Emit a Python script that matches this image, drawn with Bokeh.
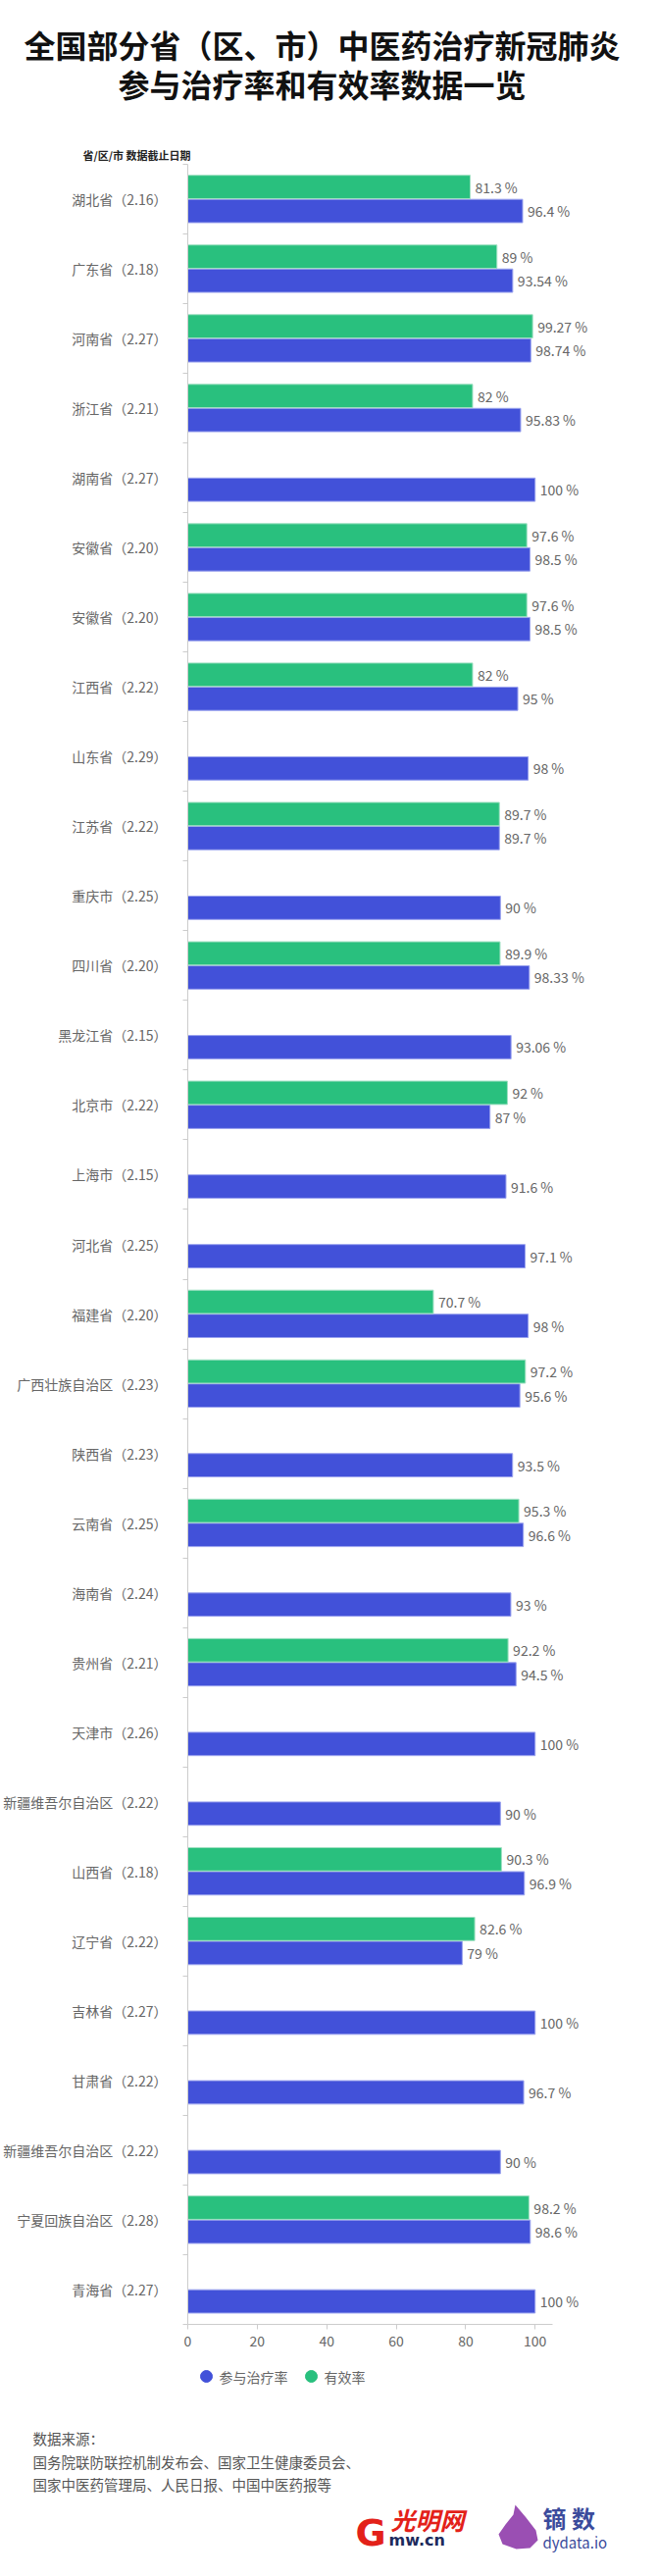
from bokeh.plotting import figure
from bokeh.layouts import column
from bokeh.models import Range1d, FixedTicker, ColumnDataSource
from bokeh.core.properties import value
from bokeh.embed import file_html
from bokeh.resources import INLINE

# ---------------- data ----------------
regions = ["湖北省", "广东省", "河南省", "浙江省", "湖南省", "安徽省", "安徽省", "江西省",
           "山东省", "江苏省", "重庆市", "四川省", "黑龙江省", "北京市", "上海市", "河北省",
           "福建省", "广西壮族自治区", "陕西省", "云南省", "海南省", "贵州省", "天津市",
           "新疆维吾尔自治区", "山西省", "辽宁省", "吉林省", "甘肃省", "新疆维吾尔自治区",
           "宁夏回族自治区", "青海省"]
dates = ["2.16", "2.18", "2.27", "2.21", "2.27", "2.20", "2.20", "2.22", "2.29", "2.22",
         "2.25", "2.20", "2.15", "2.22", "2.15", "2.25", "2.20", "2.23", "2.23", "2.25",
         "2.24", "2.21", "2.26", "2.22", "2.18", "2.22", "2.27", "2.22", "2.22", "2.28", "2.27"]
participation = [96.4, 93.54, 98.74, 95.83, 100, 98.5, 98.5, 95, 98, 89.7, 90, 98.33, 93.06,
                 87, 91.6, 97.1, 98, 95.6, 93.5, 96.6, 93, 94.5, 100, 90, 96.9, 79, 100,
                 96.7, 90, 98.6, 100]
effective = [81.3, 89, 99.27, 82, None, 97.6, 97.6, 82, None, 89.7, None, 89.9, None, 92,
             None, None, 70.7, 97.2, None, 95.3, None, 92.2, None, None, 90.3, 82.6, None,
             None, None, 98.2, None]
x_ticks = [0, 20, 40, 60, 80, 100]
series_names = ["参与治疗率", "有效率"]
title_lines = ["全国部分省（区、市）中医药治疗新冠肺炎", "参与治疗率和有效率数据一览"]
subheader = "省/区/市 数据截止日期"
source_lines = ["数据来源：", "国务院联防联控机制发布会、国家卫生健康委员会、",
                "国家中医药管理局、人民日报、中国中医药报等"]

# ---------------- style ----------------
W = 654
FONT = "Noto Sans CJK SC"
BLUE = "#4251d9"
GREEN = "#29c07e"
GRAY_TXT = "#666666"
AXIS_C = "#cccccc"


def blank(height):
    f = figure(width=W, height=height, x_range=Range1d(0, W), y_range=Range1d(height, 0),
               output_backend="svg", toolbar_location=None, min_border=0,
               x_axis_location=None, y_axis_location=None)
    f.frame_align = False
    f.grid.visible = False
    f.outline_line_color = None
    return f


# ---------------- title ----------------
TH = 167
t = blank(TH)
t.text(x=[W / 2 + 1, W / 2 + 1], y=[44, 84], text=title_lines, text_font=value(FONT),
       text_font_size="32px", text_font_style="bold", text_align="center",
       text_baseline="middle", text_color="#111111")
t.text(x=[84], y=[157], text=[subheader], text_font=value(FONT), text_font_size="11px",
       text_font_style="bold", text_align="left", text_baseline="middle", text_color="#222222")

# ---------------- chart ----------------
N = len(regions)
FRAME_H = 2202
p = figure(width=W, height=FRAME_H + 32, x_range=Range1d(0, 130.7),
           y_range=Range1d(N - 0.5, -0.5), output_backend="svg", toolbar_location=None,
           min_border_left=190, min_border_right=0, min_border_top=0, min_border_bottom=32)
p.frame_align = False
p.grid.visible = False
p.outline_line_color = None

idx = list(range(N))
blue_src = ColumnDataSource(dict(y=[i + 0.17 for i in idx], v=participation,
                                 lab=[f"{v:g} %" for v in participation]))
g_idx = [i for i in idx if effective[i] is not None]
green_src = ColumnDataSource(dict(y=[i - 0.175 for i in g_idx], v=[effective[i] for i in g_idx],
                                  lab=[f"{effective[i]:g} %" for i in g_idx]))

p.hbar(y="y", right="v", left=0, height=0.335, source=blue_src, fill_color=BLUE,
       line_color="#9aa2ee", line_width=1)
p.hbar(y="y", right="v", left=0, height=0.335, source=green_src, fill_color=GREEN,
       line_color="#9fe0c2", line_width=1)
for src in (blue_src, green_src):
    p.text(x="v", y="y", text="lab", source=src, x_offset=5, text_baseline="middle",
           text_align="left", text_font=value(FONT), text_font_size="14px",
           text_color=GRAY_TXT)

p.xaxis.ticker = FixedTicker(ticks=x_ticks)
p.xaxis.bounds = (0, 105)
p.xaxis.axis_line_color = AXIS_C
p.xaxis.major_tick_line_color = AXIS_C
p.xaxis.major_tick_out = 5
p.xaxis.major_tick_in = 0
p.xaxis.minor_tick_line_color = None
p.xaxis.major_label_text_font = FONT
p.xaxis.major_label_text_font_size = "14px"
p.xaxis.major_label_text_color = GRAY_TXT
p.xaxis.major_label_standoff = 6

p.yaxis.ticker = FixedTicker(ticks=idx, minor_ticks=[i + 0.5 for i in range(-1, N)])
p.yaxis.major_label_overrides = {i: f"{regions[i]}（{dates[i]}）" for i in idx}
p.yaxis.axis_line_color = AXIS_C
p.yaxis.major_tick_line_color = None
p.yaxis.minor_tick_line_color = AXIS_C
p.yaxis.minor_tick_out = 5
p.yaxis.minor_tick_in = 0
p.yaxis.major_label_text_font = FONT
p.yaxis.major_label_text_font_size = "14px"
p.yaxis.major_label_text_color = GRAY_TXT
p.yaxis.major_label_standoff = 15

# ---------------- footer ----------------
FH = 2610 - TH - (FRAME_H + 32)
f = blank(FH)
f.scatter(x=[210, 317], y=[21, 21], size=12, marker="circle", color=[BLUE, GREEN])
f.text(x=[223, 330], y=[21, 21], text=series_names, text_font=value(FONT),
       text_font_size="14px", text_color=GRAY_TXT, text_baseline="middle")
f.text(x=[33, 33, 33], y=[84, 108, 131], text=source_lines, text_font=value(FONT),
       text_font_size="14.5px", text_color="#555555", text_baseline="middle")

# logos (decorative text)
f.text(x=[362], y=[180], text=["G"], text_font=value("DejaVu Sans"), text_font_size="38px",
       text_font_style="bold", text_color="#e32119", text_baseline="middle")
f.text(x=[398], y=[166], text=["光明网"], text_font=value(FONT), text_font_size="25px",
       text_font_style="bold italic", text_color="#e32119", text_baseline="middle")
f.text(x=[396], y=[188], text=["mw.cn"], text_font=value("DejaVu Sans"), text_font_size="16px",
       text_font_style="bold", text_color="#1d2a5c", text_baseline="middle")
f.patch(x=[525, 536, 546, 548, 540, 526, 512, 508, 515, 523],
        y=[152, 165, 178, 188, 196, 197, 192, 182, 172, 162],
        fill_color="#9a4fb3", line_color=None)
f.text(x=[553], y=[165], text=["镝 数"], text_font=value(FONT), text_font_size="24px",
       text_font_style="bold", text_color="#3b4b9c", text_baseline="middle")
f.text(x=[553], y=[190], text=["dydata.io"], text_font=value(FONT), text_font_size="15px",
       text_color="#3b4b9c", text_baseline="middle")

layout = column(t, p, f, spacing=0)
open("out.html", "w").write(file_html(layout, INLINE))
